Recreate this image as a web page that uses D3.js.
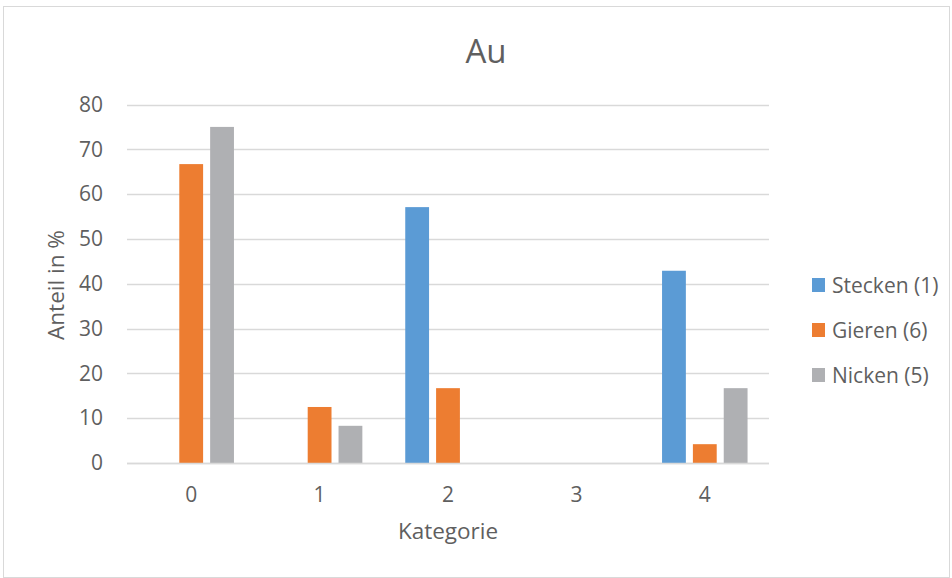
<!DOCTYPE html>
<html>
<head>
<meta charset="utf-8">
<script src="https://cdn.jsdelivr.net/npm/d3@7"></script>
<style>
  html, body { margin: 0; padding: 0; background: #fff; }
  svg { display: block; font-family: "Open Sans", Lato, sans-serif; }
</style>
</head>
<body>
<svg id="chart" width="952" height="578"></svg>
<script>
// Categories on the x axis
const categories = ["0", "1", "2", "3", "4"];
// Series names as shown in the legend
const seriesNames = ["Stecken (1)", "Gieren (6)", "Nicken (5)"];
// Percentage values per series, one per category
const stecken = [0, 0, 57.1, 0, 42.9];
const gieren  = [66.7, 12.5, 16.7, 0, 4.2];
const nicken  = [75, 8.3, 0, 0, 16.7];
// Y axis ticks
const yTicks = [0, 10, 20, 30, 40, 50, 60, 70, 80];

const seriesValues = [stecken, gieren, nicken];
const colors = ["#5B9BD5", "#ED7D31", "#AFB0B3"];
const textColor = "#5f5f5f";
const font = "'Open Sans', Lato, sans-serif";

const svg = d3.select("#chart");
const W = 952, H = 578;

// outer chart frame
svg.append("rect")
  .attr("x", 3.5).attr("y", 6.5)
  .attr("width", W - 6).attr("height", H - 7)
  .attr("fill", "#fff").attr("stroke", "#d9d9d9").attr("stroke-width", 1);

const plot = { left: 127, right: 769, top: 104.5, bottom: 463 };

const x = d3.scaleBand().domain(categories).range([plot.left, plot.right]);
const y = d3.scaleLinear().domain([0, 80]).range([plot.bottom, plot.top]);

const barW = 22, barStep = 28.5;
const xs = d3.scaleBand().domain(seriesNames)
  .range([x.bandwidth() / 2 - barStep * 1.5, x.bandwidth() / 2 + barStep * 1.5])
  .paddingInner((barStep - barW) / barStep);

// gridlines
svg.append("g")
  .selectAll("line")
  .data(yTicks)
  .join("line")
  .attr("x1", plot.left).attr("x2", plot.right)
  .attr("y1", d => Math.round(y(d)) + 0.5).attr("y2", d => Math.round(y(d)) + 0.5)
  .attr("stroke", "#d9d9d9").attr("stroke-width", 1.3);

// y tick labels
const yAxis = d3.axisLeft(y).tickValues(yTicks).tickSize(0).tickPadding(0);
const gy = svg.append("g").attr("transform", `translate(${plot.left - 24},0)`).call(yAxis);
gy.select(".domain").remove();
gy.selectAll("text").attr("fill", textColor).attr("font-size", 21)
  .attr("font-family", font);

// bars
const groups = svg.append("g").selectAll("g")
  .data(seriesNames)
  .join("g")
  .attr("fill", (d, i) => colors[i]);

groups.each(function (name, si) {
  d3.select(this).selectAll("rect")
    .data(categories.map((c, ci) => ({ c, v: seriesValues[si][ci] })))
    .join("rect")
    .attr("x", d => x(d.c) + xs(name))
    .attr("width", xs.bandwidth())
    .attr("y", d => y(d.v))
    .attr("height", d => y(0) - y(d.v));
});

// x axis baseline
svg.append("line")
  .attr("x1", plot.left).attr("x2", plot.right)
  .attr("y1", Math.round(y(0)) + 0.5).attr("y2", Math.round(y(0)) + 0.5)
  .attr("stroke", "#d9d9d9").attr("stroke-width", 1.5);

// x tick labels
const xAxis = d3.axisBottom(x).tickSize(0).tickPadding(0);
const gx = svg.append("g").attr("transform", `translate(0,487)`).call(xAxis);
gx.select(".domain").remove();
gx.selectAll("text").attr("fill", textColor).attr("font-size", 21)
  .attr("font-family", font);

// title
svg.append("text")
  .attr("x", 486).attr("y", 63)
  .attr("text-anchor", "middle")
  .attr("fill", textColor).attr("font-size", 33)
  .text("Au");

// axis titles
svg.append("text")
  .attr("x", 448).attr("y", 539)
  .attr("text-anchor", "middle")
  .attr("fill", textColor).attr("font-size", 22.5)
  .text("Kategorie");

svg.append("text")
  .attr("transform", "translate(64,285) rotate(-90)")
  .attr("text-anchor", "middle")
  .attr("fill", textColor).attr("font-size", 22.5)
  .text("Anteil in %");

// legend
const legend = svg.append("g").attr("transform", "translate(812,285)");
const item = legend.selectAll("g")
  .data(seriesNames)
  .join("g")
  .attr("transform", (d, i) => `translate(0,${i * 45})`);
item.append("rect")
  .attr("x", 0).attr("y", -7).attr("width", 13).attr("height", 14)
  .attr("fill", (d, i) => colors[i]);
item.append("text")
  .attr("x", 20).attr("y", 8)
  .attr("fill", textColor).attr("font-size", 21)
  .text(d => d);
</script>
</body>
</html>
